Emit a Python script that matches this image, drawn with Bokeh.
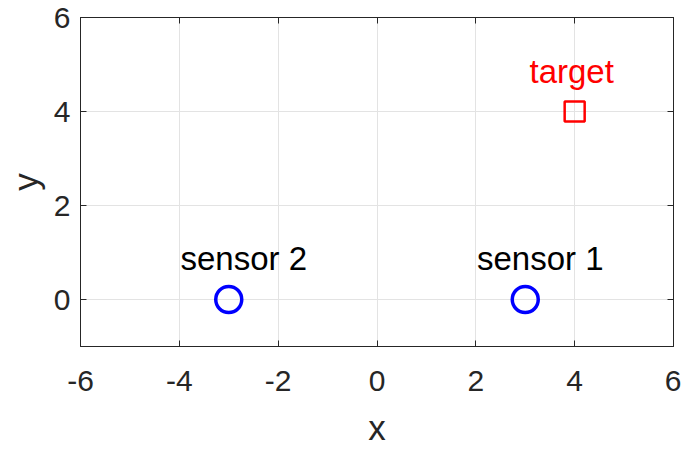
from bokeh.plotting import figure
from bokeh.models import Range1d, LinearAxis, FixedTicker, CustomJSTickFormatter
from bokeh.embed import file_html
from bokeh.resources import INLINE
from bokeh.core.properties import value

# data
sensor_x = [3, -3]
sensor_y = [0, 0]
sensor_labels = ["sensor 1", "sensor 2"]
target_x = [4]
target_y = [4]
target_labels = ["target"]
x_ticks = [-6, -4, -2, 0, 2, 4, 6]
y_ticks = [0, 2, 4, 6]

FONT = "Liberation Sans"
DARK = "#262626"

p = figure(width=681, height=450, output_backend="svg", toolbar_location=None,
           x_range=Range1d(-6, 6), y_range=Range1d(-1, 6),
           min_border_left=80, min_border_right=8, min_border_top=17, min_border_bottom=104)

p.outline_line_color = DARK
p.outline_line_width = 1
p.background_fill_color = "white"
p.border_fill_color = "white"

fmt = "return tick.toString();"
for ax, ticks in ((p.xaxis[0], x_ticks), (p.yaxis[0], y_ticks)):
    ax.ticker = FixedTicker(ticks=ticks)
    ax.formatter = CustomJSTickFormatter(code=fmt)
    ax.axis_line_color = DARK
    ax.major_tick_line_color = DARK
    ax.major_tick_in = 6
    ax.major_tick_out = 0
    ax.minor_tick_line_color = None
    ax.major_label_text_font = FONT
    ax.major_label_text_font_size = "30px"
    ax.major_label_text_color = DARK
    ax.axis_label_text_font = FONT
    ax.axis_label_text_font_size = "35px"
    ax.axis_label_text_font_style = "normal"
    ax.axis_label_text_color = DARK

p.xaxis[0].axis_label = "x"
p.yaxis[0].axis_label = "y"
p.xaxis[0].major_label_standoff = 24
p.yaxis[0].major_label_standoff = 10
p.xaxis[0].axis_label_standoff = 14
p.yaxis[0].axis_label_standoff = 6

# top/right inward ticks without labels
for loc, ticks in (("above", x_ticks), ("right", y_ticks)):
    a = LinearAxis(ticker=FixedTicker(ticks=ticks))
    a.axis_line_color = DARK
    a.major_tick_line_color = DARK
    a.major_tick_in = 6
    a.major_tick_out = 0
    a.minor_tick_line_color = None
    a.major_label_text_font_size = "0px"
    a.major_label_standoff = 0
    p.add_layout(a, loc)

p.xgrid.ticker = FixedTicker(ticks=x_ticks)
p.ygrid.ticker = FixedTicker(ticks=y_ticks)
p.grid.grid_line_color = "#e3e3e3"
p.grid.grid_line_width = 1

p.scatter(sensor_x, sensor_y, marker="circle", size=26, fill_color=None,
          line_color="#0000ff", line_width=3.5)
p.scatter(target_x, target_y, marker="square", size=20, fill_color=None,
          line_color="#ff0000", line_width=2.5)

p.text(sensor_x, sensor_y, text=sensor_labels, text_font=value(FONT),
       text_font_size="33px", text_color="#000000", text_align="center",
       text_baseline="alphabetic", x_offset=15, y_offset=-41)
p.text(target_x, target_y, text=target_labels, text_font=value(FONT),
       text_font_size="33px", text_color="#ff0000", text_align="center",
       text_baseline="alphabetic", x_offset=-3, y_offset=-40)

open("out.html", "w").write(file_html(p, INLINE))
